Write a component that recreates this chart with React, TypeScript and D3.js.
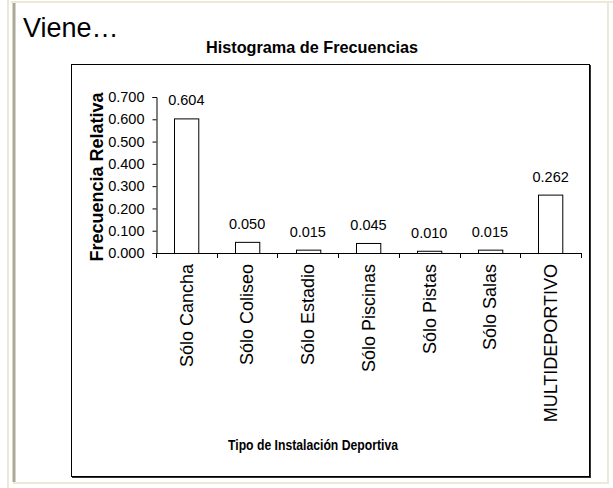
import React, { useEffect, useRef } from "react";
import * as d3 from "d3";

const categories = ["Sólo Cancha", "Sólo Coliseo", "Sólo Estadio", "Sólo Piscinas", "Sólo Pistas", "Sólo Salas", "MULTIDEPORTIVO"];
const frecuencias = [0.604, 0.05, 0.015, 0.045, 0.01, 0.015, 0.262];
const yTicks = [0, 0.1, 0.2, 0.3, 0.4, 0.5, 0.6, 0.7];

const W = 613;
const H = 488;

export default function App() {
  const ref = useRef<SVGSVGElement>(null);

  useEffect(() => {
    const svg = d3.select(ref.current);
    svg.selectAll("*").remove();

    // page frame (slide look)
    svg.append("rect").attr("width", W).attr("height", H).attr("fill", "#fff");
    svg.append("line").attr("x1", 8).attr("x2", 8).attr("y1", 0).attr("y2", H).attr("stroke", "#ece9d8").attr("stroke-width", 2);
    svg.append("line").attr("x1", 11).attr("x2", 613).attr("y1", 2).attr("y2", 2).attr("stroke", "#ece9d8").attr("stroke-width", 2);
    svg.append("line").attr("x1", 608).attr("x2", 608).attr("y1", 2).attr("y2", 484).attr("stroke", "#ece9d8").attr("stroke-width", 2);
    svg.append("line").attr("x1", 13).attr("x2", 609).attr("y1", 483).attr("y2", 483).attr("stroke", "#ece9d8").attr("stroke-width", 2);
    svg.append("line").attr("x1", 14).attr("x2", 14).attr("y1", 3).attr("y2", 482).attr("stroke", "#aca899").attr("stroke-width", 3);

    const font = "Arial, 'Liberation Sans', sans-serif";

    svg.append("text")
      .attr("x", 23).attr("y", 37)
      .attr("font-family", font)
      .attr("font-size", 27)
      .text("Viene…");

    // chart box
    const box = { x0: 71, y0: 64, x1: 589, y1: 476 };
    svg.append("rect")
      .attr("x", box.x0 + 1.5).attr("y", box.y0 + 1.5)
      .attr("width", box.x1 - box.x0).attr("height", box.y1 - box.y0)
      .attr("fill", "none").attr("stroke", "#333").attr("stroke-width", 1);
    svg.append("rect")
      .attr("x", box.x0 + 0.5).attr("y", box.y0 + 0.5)
      .attr("width", box.x1 - box.x0).attr("height", box.y1 - box.y0)
      .attr("fill", "#fff").attr("stroke", "#000").attr("stroke-width", 1);

    const centerX = 312;

    svg.append("text")
      .attr("x", centerX).attr("y", 53)
      .attr("text-anchor", "middle")
      .attr("font-family", font).attr("font-weight", "bold").attr("font-size", 17)
      .attr("textLength", 212).attr("lengthAdjust", "spacingAndGlyphs")
      .text("Histograma de Frecuencias");

    const plot = { left: 156, right: 581, top: 97, bottom: 253 };

    const x = d3.scaleBand<string>()
      .domain(categories)
      .range([plot.left, plot.right])
      .paddingInner(0)
      .paddingOuter(0);

    const y = d3.scaleLinear().domain([0, 0.7]).range([plot.bottom, plot.top]);

    // bars
    const barW = x.bandwidth() * 0.4;
    svg.append("g")
      .selectAll("rect")
      .data(frecuencias)
      .join("rect")
      .attr("x", (_, i) => Math.round(x(categories[i])! + (x.bandwidth() - barW) / 2) + 0.5)
      .attr("y", d => y(d) + 0.5)
      .attr("width", barW)
      .attr("height", d => plot.bottom - y(d))
      .attr("fill", "#fff")
      .attr("stroke", "#000")
      .attr("stroke-width", 1);

    // value labels
    svg.append("g")
      .selectAll("text")
      .data(frecuencias)
      .join("text")
      .attr("x", (_, i) => x(categories[i])! + x.bandwidth() / 2)
      .attr("y", d => y(d) - 13)
      .attr("text-anchor", "middle")
      .attr("font-family", font).attr("font-size", 14.5)
      .text(d => d3.format(".3f")(d));

    // y axis
    const yAxis = svg.append("g")
      .attr("transform", `translate(${plot.left + 0.5},0)`)
      .call(d3.axisLeft(y).tickValues(yTicks).tickFormat(d3.format(".3f")).tickSize(4).tickPadding(8));
    yAxis.selectAll("text").attr("font-family", font).attr("font-size", 14.5).attr("fill", "#000");
    yAxis.selectAll("line,path").attr("stroke", "#000");

    // x axis
    svg.append("line")
      .attr("x1", plot.left).attr("x2", plot.right)
      .attr("y1", plot.bottom + 0.5).attr("y2", plot.bottom + 0.5)
      .attr("stroke", "#000");
    const bounds = categories.map(c => x(c)!).concat([plot.right]);
    svg.append("g")
      .selectAll("line")
      .data(bounds)
      .join("line")
      .attr("x1", d => Math.round(d) + 0.5).attr("x2", d => Math.round(d) + 0.5)
      .attr("y1", plot.bottom).attr("y2", plot.bottom + 5)
      .attr("stroke", "#000");

    svg.append("g")
      .selectAll("text")
      .data(categories)
      .join("text")
      .attr("transform", d => `translate(${x(d)! + x.bandwidth() / 2},${plot.bottom + 11}) rotate(-90)`)
      .attr("dy", "0.35em")
      .attr("text-anchor", "end")
      .attr("font-family", font).attr("font-size", 18)
      .text(d => d);

    // axis titles
    svg.append("text")
      .attr("transform", `translate(103,${(plot.top + plot.bottom) / 2 + 2}) rotate(-90)`)
      .attr("text-anchor", "middle")
      .attr("font-family", font).attr("font-weight", "bold").attr("font-size", 18)
      .text("Frecuencia Relativa");

    svg.append("text")
      .attr("x", centerX + 1).attr("y", 450)
      .attr("text-anchor", "middle")
      .attr("font-family", font).attr("font-weight", "bold").attr("font-size", 15.5)
      .attr("textLength", 170).attr("lengthAdjust", "spacingAndGlyphs")
      .text("Tipo de Instalación Deportiva");
  }, []);

  return (
    <svg ref={ref} width={W} height={H} style={{ position: "absolute", left: 0, top: 0, display: "block" }} />
  );
}
